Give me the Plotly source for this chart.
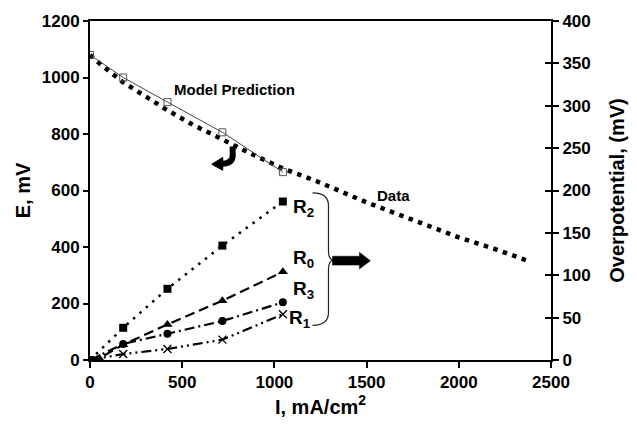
import plotly.graph_objects as go

# ---------------- data ----------------
data_I = [0, 60, 180, 300, 420, 560, 718, 880, 1046, 1236, 1500, 1714, 2000, 2200, 2370]
data_E = [1080, 1045, 983, 932, 884, 832, 780, 728, 678, 631, 558, 504, 434, 392, 352]

model_I = [0, 180, 420, 718, 1046]
model_E = [1080, 1000, 913, 806, 665]

r2_I = [0, 180, 420, 718, 1046]
r2_V = [0, 38, 84, 135, 187]

r0_I = [0, 50, 180, 420, 718, 1046]
r0_V = [0, 2, 18, 42, 70, 104]

r3_I = [0, 180, 420, 718, 1046]
r3_V = [0, 19, 31, 46, 68]

r1_I = [0, 180, 420, 718, 1046]
r1_V = [0, 7, 13, 24, 54]

x_ticks = [0, 500, 1000, 1500, 2000, 2500]
yl_ticks = [0, 200, 400, 600, 800, 1000, 1200]
yr_ticks = [0, 50, 100, 150, 200, 250, 300, 350, 400]

# ---------------- layout helpers ----------------
W, H = 637, 426
L, R, T, B = 90, 552, 19, 362
FONT = "Liberation Sans, Arial, sans-serif"


def px(x):
    return (x - L) / (R - L)


def py(y):
    return (B - y) / (B - T)


def pt(p):
    return f"{px(p[0]):.5f},{py(p[1]):.5f}"


def path(segments, close=False):
    # segments: list of (command, [points])
    out = []
    for cmd, pts in segments:
        out.append(cmd + " " + " ".join(pt(p) for p in pts))
    s = " ".join(out)
    return s + (" Z" if close else "")


fig = go.Figure()

# Data (thick dotted)
fig.add_trace(go.Scatter(x=data_I, y=data_E, mode="lines", name="Data",
                         line=dict(color="black", width=4.5, dash="4.5px,5.5px"),
                         showlegend=False))
# Model prediction
fig.add_trace(go.Scatter(x=model_I, y=model_E, mode="lines+markers", name="Model Prediction",
                         line=dict(color="#444444", width=1),
                         marker=dict(symbol="square-open", size=7, color="#555555",
                                     line=dict(width=1)),
                         showlegend=False))

# Overpotential series (right axis)
fig.add_trace(go.Scatter(x=r2_I, y=r2_V, yaxis="y2", mode="lines+markers",
                         line=dict(color="black", width=2.5, dash="2.5px,6px"),
                         marker=dict(symbol="square", size=8, color="black"), showlegend=False))
fig.add_trace(go.Scatter(x=r0_I, y=r0_V, yaxis="y2", mode="lines+markers",
                         line=dict(color="black", width=2.2, dash="10px,5px"),
                         marker=dict(symbol="triangle-up", size=9, color="black"), showlegend=False))
fig.add_trace(go.Scatter(x=r3_I, y=r3_V, yaxis="y2", mode="lines+markers",
                         line=dict(color="black", width=2.2, dash="10px,4px,2px,4px"),
                         marker=dict(symbol="circle", size=8, color="black"), showlegend=False))
fig.add_trace(go.Scatter(x=r1_I, y=r1_V, yaxis="y2", mode="lines+markers",
                         line=dict(color="black", width=2.2, dash="10px,4px,2px,4px,2px,4px"),
                         marker=dict(symbol="x-thin-open", size=8, color="black",
                                     line=dict(width=1.3, color="black")), showlegend=False))

tickfont = dict(family=FONT, size=17, color="black", weight="bold")
titlefont = dict(family=FONT, size=20, color="black", weight="bold")

fig.update_layout(
    width=W, height=H,
    margin=dict(l=L, r=W - R, t=T, b=H - B),
    paper_bgcolor="white", plot_bgcolor="white",
    xaxis=dict(range=[0, 2500], tickvals=x_ticks, showgrid=False, zeroline=False,
               showline=True, linecolor="black", linewidth=2, mirror=True,
               ticks="outside", ticklen=6, tickwidth=1.5, tickcolor="black",
               tickfont=tickfont,
               title=dict(text="I, mA/cm<sup>2</sup>", font=titlefont, standoff=8)),
    yaxis=dict(range=[0, 1200], tickvals=yl_ticks, showgrid=False, zeroline=False,
               showline=True, linecolor="black", linewidth=2,
               ticks="outside", ticklen=5, tickwidth=1.5, tickcolor="black",
               tickfont=tickfont,
               title=dict(text="E, mV", font=titlefont, standoff=6)),
    yaxis2=dict(range=[0, 400], tickvals=yr_ticks, overlaying="y", side="right",
                showgrid=False, zeroline=False, showline=True, linecolor="black",
                linewidth=2, ticks="outside", ticklen=6, tickwidth=1.5, tickcolor="black",
                tickfont=tickfont,
                title=dict(text="Overpotential, (mV)", font=titlefont, standoff=20)),
    yaxis3=dict(range=[0, 400], tickvals=yr_ticks, overlaying="y", side="right",
                anchor="x", showgrid=False, zeroline=False, showline=False,
                ticks="inside", ticklen=6, tickwidth=1.5, tickcolor="black",
                showticklabels=False),
)
# invisible trace so the inner right ticks are rendered
fig.add_trace(go.Scatter(x=[0], y=[0], yaxis="y3", mode="markers",
                         marker=dict(opacity=0), hoverinfo="skip", showlegend=False))

labfont = dict(family=FONT, size=15, color="black", weight="bold")
rfont = dict(family=FONT, size=19, color="black", weight="bold")
anns = [
    dict(text="Model Prediction", x=px(235), y=py(88), font=labfont, xanchor="center", yanchor="middle"),
    dict(text="Data", x=px(394), y=py(196), font=labfont, xanchor="center", yanchor="middle"),
    dict(text="R<sub>2</sub>", x=px(291), y=py(208), font=rfont, xanchor="left", yanchor="middle"),
    dict(text="R<sub>0</sub>", x=px(291), y=py(260), font=rfont, xanchor="left", yanchor="middle"),
    dict(text="R<sub>3</sub>", x=px(291), y=py(291), font=rfont, xanchor="left", yanchor="middle"),
    dict(text="R<sub>1</sub>", x=px(287), y=py(321), font=rfont, xanchor="left", yanchor="middle"),
]
fig.update_layout(annotations=[dict(a, xref="paper", yref="paper", showarrow=False) for a in anns])

brace = path([
    ("M", [(313, 193)]),
    ("Q", [(329, 193), (329, 206)]),
    ("L", [(329, 252)]),
    ("Q", [(329, 260), (334, 261)]),
    ("Q", [(329, 262), (329, 270)]),
    ("L", [(329, 314)]),
    ("Q", [(329, 327), (313, 327)]),
])
block_arrow = path([
    ("M", [(333, 257)]),
    ("L", [(360, 257)]),
    ("L", [(360, 253)]),
    ("L", [(371, 261.5)]),
    ("L", [(360, 270)]),
    ("L", [(360, 266)]),
    ("L", [(333, 266)]),
], close=True)
curve_shaft = path([
    ("M", [(233, 146)]),
    ("L", [(233, 155)]),
    ("Q", [(233, 163), (222, 163.5)]),
])
curve_head = path([
    ("M", [(223, 157)]),
    ("L", [(223, 170)]),
    ("L", [(212, 164)]),
], close=True)

shapes = [
    dict(type="path", path=brace, line=dict(color="#222222", width=1.2)),
    dict(type="path", path=block_arrow, fillcolor="black", line=dict(color="black", width=0.5)),
    dict(type="path", path=curve_shaft, line=dict(color="black", width=6)),
    dict(type="path", path=curve_head, fillcolor="black", line=dict(color="black", width=1)),
]
fig.update_layout(shapes=[dict(s, xref="paper", yref="paper") for s in shapes])

fig.write_html("out.html")
